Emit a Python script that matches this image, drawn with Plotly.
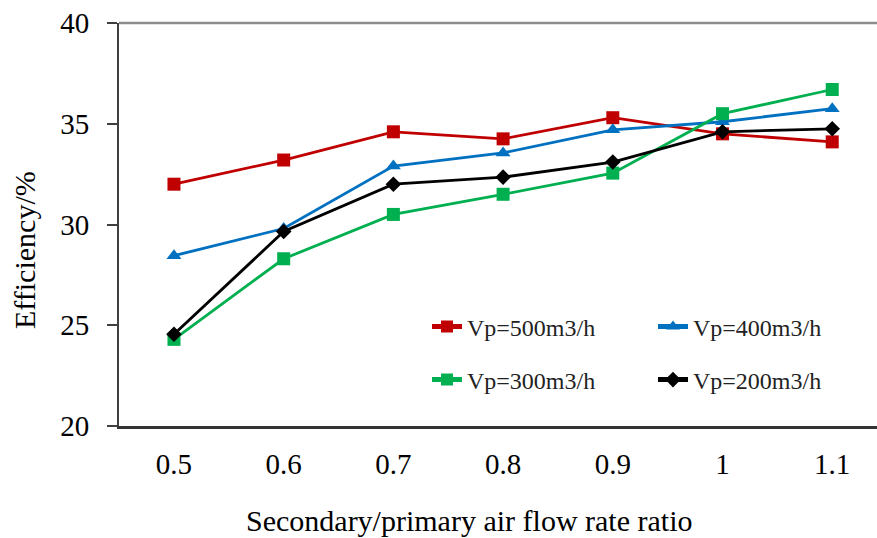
import plotly.graph_objects as go

ratio = [0.5, 0.6, 0.7, 0.8, 0.9, 1.0, 1.1]
tick_labels = ["0.5", "0.6", "0.7", "0.8", "0.9", "1", "1.1"]
vp500 = [32.0, 33.2, 34.6, 34.25, 35.3, 34.5, 34.1]
vp400 = [28.45, 29.8, 32.9, 33.55, 34.7, 35.1, 35.75]
vp300 = [24.3, 28.3, 30.5, 31.5, 32.55, 35.5, 36.7]
vp200 = [24.55, 29.65, 32.0, 32.35, 33.1, 34.6, 34.75]
y_ticks = [20, 25, 30, 35, 40]

series = [
    ("Vp=500m3/h", vp500, "#C00000", "square", 13, "legend"),
    ("Vp=400m3/h", vp400, "#0070C0", "triangle-up", 13, "legend"),
    ("Vp=300m3/h", vp300, "#00B050", "square", 13, "legend2"),
    ("Vp=200m3/h", vp200, "#000000", "diamond", 12, "legend2"),
]

fig = go.Figure()
for name, vals, color, sym, size, lg in series:
    fig.add_trace(go.Scatter(
        x=ratio, y=vals, name=name, mode="lines+markers",
        line=dict(color=color, width=2.8),
        marker=dict(symbol=sym, size=size, color=color, line=dict(width=0)),
        legend=lg,
    ))

font_main = "Liberation Serif, Times New Roman, serif"
leg_common = dict(
    orientation="h", xanchor="left", yanchor="middle",
    font=dict(family=font_main, size=24, color="#222222"),
    bgcolor="rgba(0,0,0,0)", entrywidth=181, entrywidthmode="pixels",
    itemsizing="constant", tracegroupgap=0,
)

W = 758
H = 403
fig.update_layout(
    width=877, height=538,
    margin=dict(l=119, r=0, t=23, b=112, autoexpand=False),
    paper_bgcolor="white", plot_bgcolor="white",
    showlegend=True,
    legend=dict(x=(427 - 119) / W, y=(426 - 327) / H, **leg_common),
    legend2=dict(x=(427 - 119) / W, y=(426 - 380) / H, **leg_common),
    xaxis=dict(
        range=[0.4499, 1.1408], tickvals=ratio, ticktext=tick_labels,
        showgrid=False, zeroline=False, showline=True, linecolor="#333333", linewidth=2.5,
        ticks="", ticklabelstandoff=10,
        tickfont=dict(family=font_main, size=29, color="#000000"),
    ),
    yaxis=dict(
        range=[20, 40], tickvals=y_ticks, showgrid=False, zeroline=False,
        showline=True, linecolor="#404040", linewidth=2,
        ticks="outside", ticklen=10, tickwidth=2, tickcolor="#404040",
        ticklabelstandoff=12,
        tickfont=dict(family=font_main, size=29, color="#000000"),
    ),
    shapes=[dict(type="line", xref="paper", yref="paper", x0=0, x1=1, y0=1, y1=1,
                 line=dict(color="#8c8c8c", width=2.5))],
    annotations=[
        dict(text="Secondary/primary air flow rate ratio", xref="paper", yref="paper",
             x=(469 - 119) / W, y=(426 - 520) / H, xanchor="center", yanchor="middle",
             showarrow=False, font=dict(family=font_main, size=30, color="#000000")),
        dict(text="Efficiency/%", xref="paper", yref="paper", textangle=-90,
             x=(24 - 119) / W, y=(426 - 250) / H, xanchor="center", yanchor="middle",
             showarrow=False, font=dict(family=font_main, size=30, color="#000000")),
    ],
)

fig.write_html("out.html")
